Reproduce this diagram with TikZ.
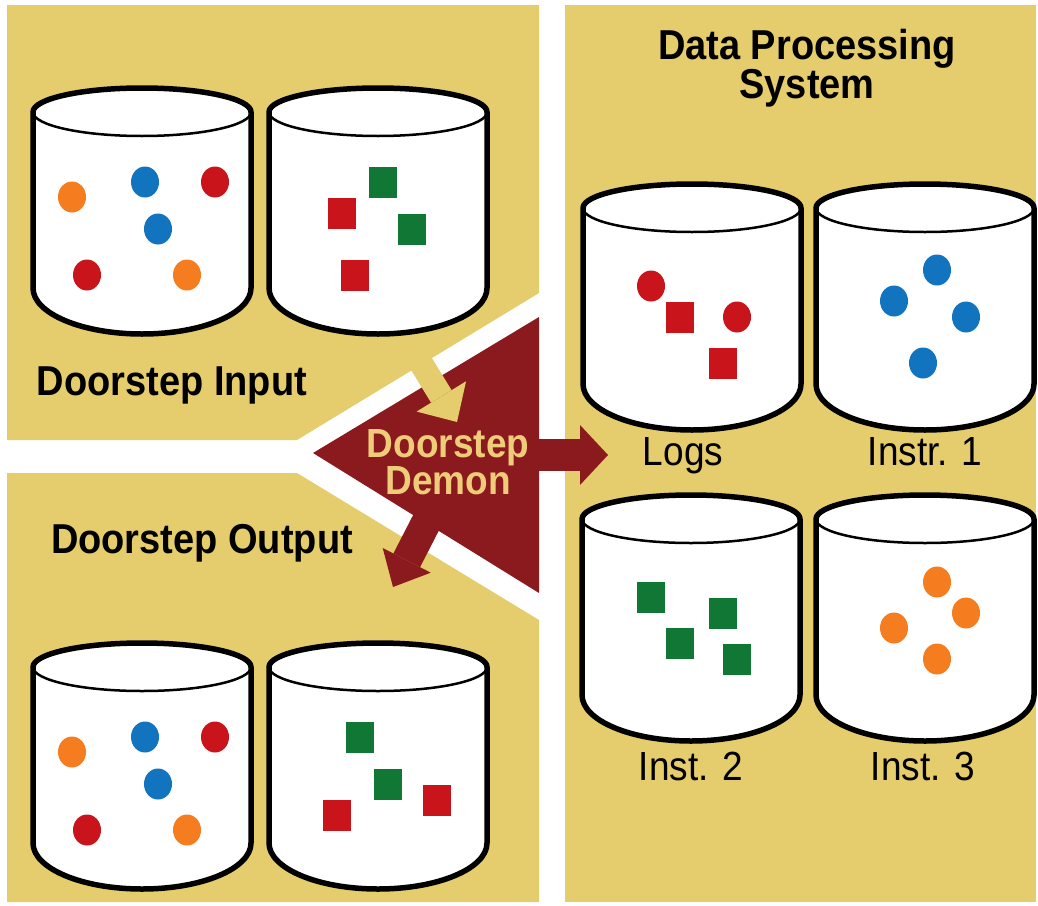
\documentclass[tikz,border=0pt]{standalone}
\usepackage{fontspec}
\setmainfont{Liberation Sans}
\usetikzlibrary{arrows.meta,shapes.geometric}
\definecolor{panel}{RGB}{229,204,108}
\definecolor{demonred}{RGB}{139,26,30}
\definecolor{demongold}{RGB}{238,204,122}
\definecolor{dred}{RGB}{200,20,26}
\definecolor{dblue}{RGB}{18,115,190}
\definecolor{dorange}{RGB}{245,125,32}
\definecolor{dgreen}{RGB}{16,120,52}
\begin{document}
\begin{tikzpicture}[x=1pt,y=-1pt,
  can/.pic={
    \draw[line width=5.5pt, fill=white, line join=round]
      (-109,0) -- (-109,176) arc[start angle=180, end angle=360, x radius=109pt, y radius=46pt]
      -- (109,0) arc[start angle=0, end angle=180, x radius=109pt, y radius=24pt] -- cycle;
    \draw[line width=2.5pt] (-109,0) arc[start angle=180, end angle=360, x radius=109pt, y radius=24pt];
  },
  ball/.style={ellipse, minimum width=28pt, minimum height=31pt, inner sep=0pt},
  brick/.style={rectangle, minimum width=28pt, minimum height=31pt, inner sep=0pt},
  head/.style={font=\fontsize{38}{34}\selectfont\bfseries},
  lbl/.style={font=\fontsize{37}{40}\selectfont, anchor=base},
  bigarrow/.style={line width=#1, draw=demonred}]
\useasboundingbox (0,0) rectangle (1038,905);
\fill[white] (0,0) rectangle (1038,905);
% panels
\fill[panel] (7,5) -- (539,5) -- (539,293) -- (297,440) -- (7,440) -- cycle;
\fill[panel] (7,473) -- (297,473) -- (539,620) -- (539,902) -- (7,902) -- cycle;
\fill[panel] (565,5) rectangle (1036,902);
% doorstep demon
\fill[demonred] (313,453) -- (539,317) -- (539,593) -- cycle;
\coordinate (inSrc) at (408,342);
\coordinate (inTip) at (457,422);
\coordinate (dmR) at (500,455);
\coordinate (logsArr) at (608,455);
\coordinate (dmL) at (448,480);
\coordinate (outArr) at (393,587);
\draw[line width=24pt, draw=panel, -{Triangle[length=30pt, width=58pt, line width=0pt]}] (inSrc) -- (inTip);
\draw[bigarrow=32pt, -{Triangle[length=28pt, width=60pt, line width=0pt]}] (dmR) -- (logsArr);
\draw[bigarrow=30pt, -{Triangle[length=30pt, width=54pt, line width=0pt]}] (dmL) -- (outArr);
\node[font=\fontsize{37}{36}\selectfont\bfseries, text=demongold, align=center] (demon) at (448,462)
  {\scalebox{1}[1.1]{Doorstep}\\\scalebox{1}[1.1]{Demon}};
% doorstep input
\pic (inA) at (142,112) {can};
\pic (inB) at (378,112) {can};
\node [ball, fill=dorange] (ia1) at (72,197) {};
\node [ball, fill=dblue] (ia2) at (145,182) {};
\node [ball, fill=dred] (ia3) at (215,182) {};
\node [ball, fill=dblue] (ia4) at (158,229) {};
\node [ball, fill=dred] (ia5) at (87,275) {};
\node [ball, fill=dorange] (ia6) at (187,275) {};
\node [brick, fill=dgreen] (ib1) at (383,182) {};
\node [brick, fill=dred] (ib2) at (342,213) {};
\node [brick, fill=dgreen] (ib3) at (412,229) {};
\node [brick, fill=dred] (ib4) at (355,275) {};
\node [head, anchor=base] (inlbl) at (172,395) {\scalebox{1}[1.1]{Doorstep Input}};
% doorstep output
\node [head, anchor=base] (outlbl) at (202,553) {\scalebox{1}[1.1]{Doorstep Output}};
\pic (outA) at (142,667) {can};
\pic (outB) at (378,667) {can};
\node [ball, fill=dorange] (oa1) at (72,752) {};
\node [ball, fill=dblue] (oa2) at (145,737) {};
\node [ball, fill=dred] (oa3) at (215,737) {};
\node [ball, fill=dblue] (oa4) at (158,784) {};
\node [ball, fill=dred] (oa5) at (87,830) {};
\node [ball, fill=dorange] (oa6) at (187,830) {};
\node [brick, fill=dgreen] (ob1) at (360,737) {};
\node [brick, fill=dgreen] (ob2) at (388,784) {};
\node [brick, fill=dred] (ob3) at (437,800) {};
\node [brick, fill=dred] (ob4) at (337,815) {};
% data processing system
\node [head, align=center] (dps) at (807,68)
  {\scalebox{1}[1.1]{Data Processing}\\\scalebox{1}[1.1]{System}};
\pic (logs) at (692,208) {can};
\pic (instr) at (925,208) {can};
\node [ball, fill=dred] (lg1) at (651,286) {};
\node [brick, fill=dred] (lg2) at (680,317) {};
\node [ball, fill=dred] (lg3) at (737,317) {};
\node [brick, fill=dred] (lg4) at (723,363) {};
\node [ball, fill=dblue] (i11) at (937,270) {};
\node [ball, fill=dblue] (i12) at (894,301) {};
\node [ball, fill=dblue] (i13) at (966,317) {};
\node [ball, fill=dblue] (i14) at (923,363) {};
\node [lbl] (logslbl) at (683,465) {\scalebox{1}[1.1]{Logs}};
\node [lbl] (instrlbl) at (925,465) {\scalebox{1}[1.1]{Instr. 1}};
\pic (instB) at (691,519) {can};
\pic (instC) at (925,519) {can};
\node [brick, fill=dgreen] (i21) at (651,597) {};
\node [brick, fill=dgreen] (i22) at (723,613) {};
\node [brick, fill=dgreen] (i23) at (680,643) {};
\node [brick, fill=dgreen] (i24) at (737,659) {};
\node [ball, fill=dorange] (i31) at (937,582) {};
\node [ball, fill=dorange] (i32) at (966,613) {};
\node [ball, fill=dorange] (i33) at (894,628) {};
\node [ball, fill=dorange] (i34) at (937,659) {};
\node [lbl] (instBlbl) at (691,780) {\scalebox{1}[1.1]{Inst. 2}};
\node [lbl] (instClbl) at (923,780) {\scalebox{1}[1.1]{Inst. 3}};
\end{tikzpicture}
\end{document}
